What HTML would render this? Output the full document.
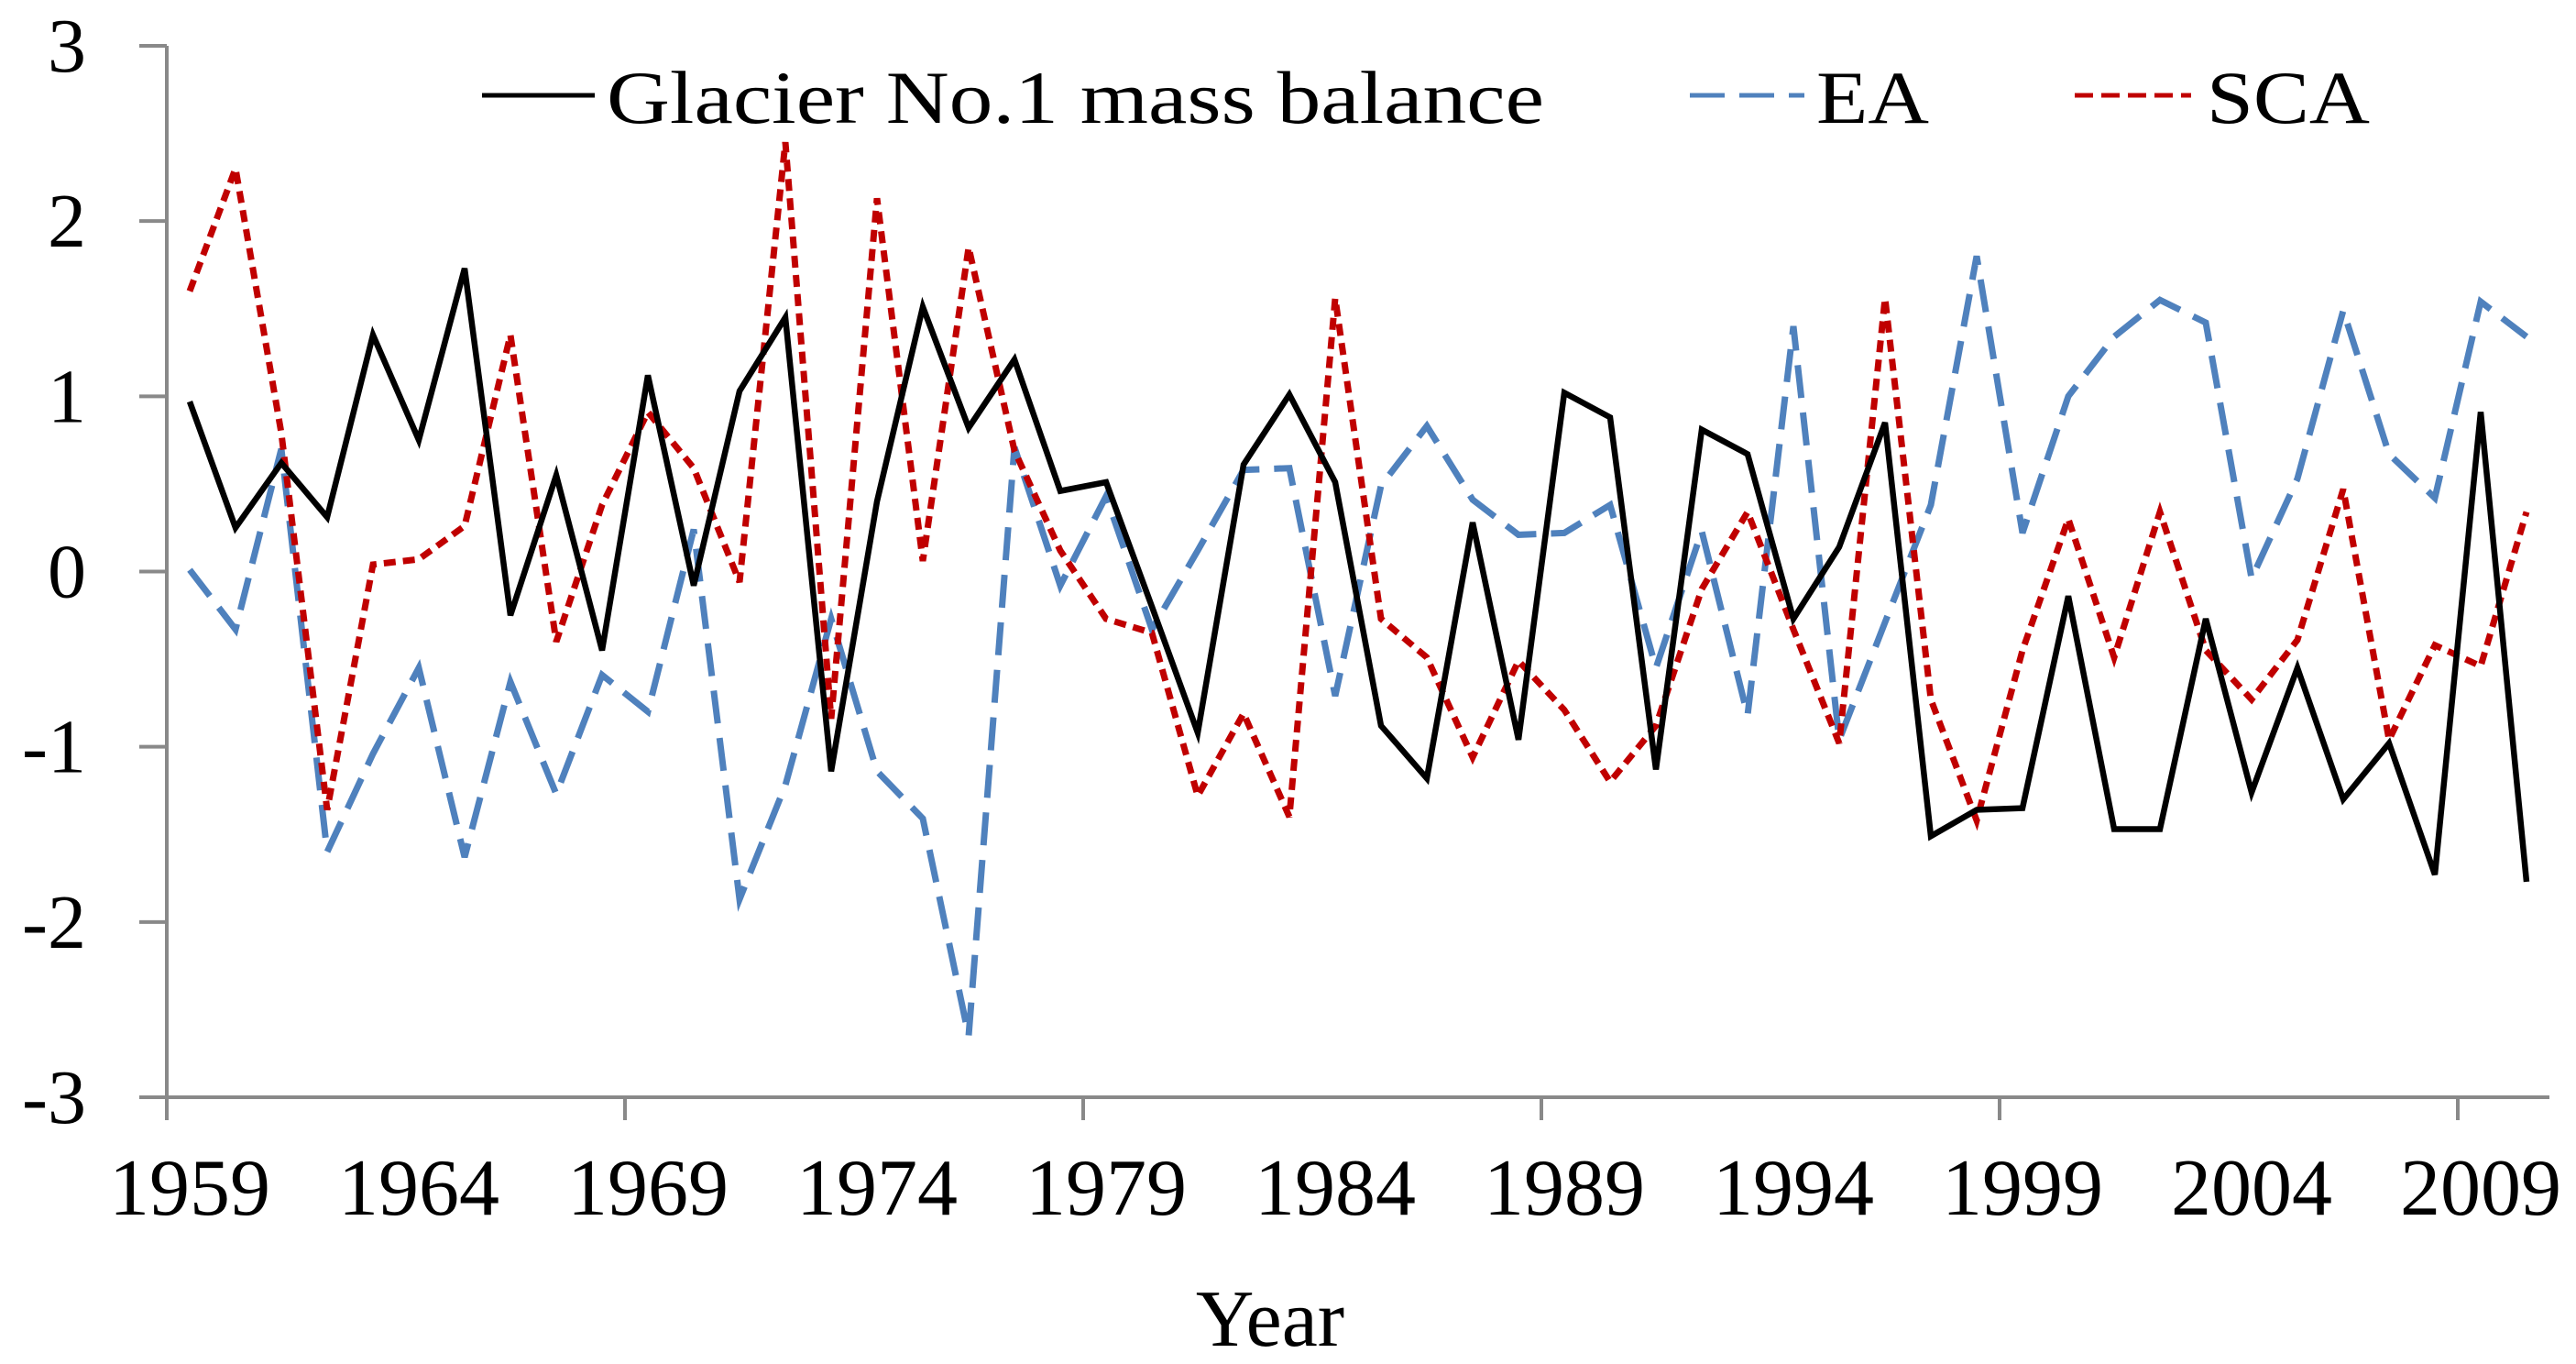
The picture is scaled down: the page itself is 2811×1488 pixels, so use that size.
<!DOCTYPE html>
<html><head><meta charset="utf-8"><style>
html,body{margin:0;padding:0;background:#fff;}
svg{display:block;}
text{font-family:"Liberation Serif",serif;fill:#000;}
</style></head><body>
<svg id="chart" width="2811" height="1488" viewBox="0 0 2811 1488" xmlns="http://www.w3.org/2000/svg">
<g id="grid"></g>
<g id="series"></g>
<g id="axes"></g>
<g id="legend">
  <line x1="526" y1="104" x2="649" y2="104" stroke="#000" stroke-width="5"/>
  <text x="662" y="134" font-size="82" textLength="1023" lengthAdjust="spacingAndGlyphs">Glacier No.1 mass balance</text>
  <line x1="1844" y1="104" x2="1969" y2="104" stroke="#4f81bd" stroke-width="5" stroke-dasharray="38 16"/>
  <text x="1982" y="134" font-size="82" textLength="123" lengthAdjust="spacingAndGlyphs">EA</text>
  <line x1="2264" y1="104" x2="2391" y2="104" stroke="#c00000" stroke-width="5" stroke-dasharray="20 9"/>
  <text x="2408" y="134" font-size="82" textLength="178" lengthAdjust="spacingAndGlyphs">SCA</text>
</g>
<text x="1386" y="1468" font-size="88" text-anchor="middle">Year</text>
</svg>
<script>
const startYear = 1959;
const massBalance = [0.97,0.25,0.62,0.31,1.35,0.75,1.73,-0.25,0.55,-0.45,1.12,-0.08,1.03,1.45,
 -1.14,0.40,1.51,0.82,1.21,0.46,0.51,-0.20,-0.92,0.61,1.01,0.51,-0.88,-1.18,
 0.28,-0.96,1.02,0.88,-1.13,0.81,0.67,-0.27,0.14,0.85,-1.51,-1.36,-1.35,
 -0.14,-1.47,-1.47,-0.27,-1.26,-0.55,-1.30,-0.98,-1.73,0.91,-1.77];
const eaValues = [0.01,-0.33,0.70,-1.60,-1.04,-0.55,-1.63,-0.63,-1.27,-0.59,-0.80,0.24,-1.87,-1.22,
 -0.27,-1.14,-1.41,-2.65,0.71,-0.08,0.43,-0.33,0.12,0.58,0.59,-0.71,0.49,0.83,
 0.41,0.21,0.22,0.38,-0.55,0.23,-0.82,1.40,-0.96,-0.29,0.38,1.80,0.22,
 1.00,1.34,1.55,1.42,-0.04,0.53,1.49,0.67,0.42,1.54,1.34];
const scaValues = [1.60,2.30,0.79,-1.36,0.04,0.07,0.26,1.35,-0.40,0.38,0.91,0.59,-0.06,2.45,
 -0.84,2.13,0.06,1.85,0.69,0.12,-0.27,-0.35,-1.28,-0.81,-1.40,1.56,-0.27,-0.49,
 -1.06,-0.51,-0.79,-1.20,-0.88,-0.10,0.34,-0.33,-0.98,1.56,-0.73,-1.42,-0.45,
 0.30,-0.49,0.34,-0.45,-0.73,-0.39,0.47,-0.96,-0.42,-0.54,0.34];
const yTicks = [3,2,1,0,-1,-2,-3];
const xTickLabels = ["1959","1964","1969","1974","1979","1984","1989","1994","1999","2004","2009"];

const NS = "http://www.w3.org/2000/svg";
const X0 = 182, CW = 50, N = massBalance.length, XEND = X0 + CW * N;
const YTOP = 50, YBOT = 1197, YMAX = 3, YMIN = -3;
function xPos(i){ return X0 + CW * (i + 0.5); }
function yPos(v){ return YTOP + (YMAX - v) / (YMAX - YMIN) * (YBOT - YTOP); }
function mk(tag, attrs, parent){ const e = document.createElementNS(NS, tag); for (const k in attrs) e.setAttribute(k, attrs[k]); parent.appendChild(e); return e; }

const axes = document.getElementById('axes');
const series = document.getElementById('series');

function drawSeries(vals, name, color, width, dash){
  const pts = vals.map((v,i) => xPos(i).toFixed(1) + ',' + yPos(v).toFixed(1)).join(' ');
  const p = mk('polyline', {points: pts, fill: 'none', stroke: color, 'stroke-width': width, 'stroke-linejoin': 'miter'}, series);
  if (dash) p.setAttribute('stroke-dasharray', dash);
  
  
}
drawSeries(eaValues, 'ea-line', '#4f81bd', 7, '36 16');
drawSeries(scaValues, 'sca-line', '#c00000', 7, '13 8');
drawSeries(massBalance, 'mass-balance-line', '#000', 6.5, null);

const yAxis = mk('line', {x1: X0, y1: YTOP, x2: X0, y2: YBOT, stroke: '#898989', 'stroke-width': 4}, axes);


const xAxis = mk('line', {x1: X0 - 30, y1: YBOT, x2: XEND, y2: YBOT, stroke: '#898989', 'stroke-width': 4}, axes);



yTicks.forEach(v => {
  const y = yPos(v);
  const t = mk('line', {x1: X0 - 30, y1: y, x2: X0, y2: y, stroke: '#898989', 'stroke-width': 4}, axes);
  
  
  const l = mk('text', {x: 94, y: y + 28, 'font-size': 84, 'text-anchor': 'end'}, axes);
  l.textContent = String(v);
  
  
});
for (let k = 0; k <= N; k += 10) {
  const x = X0 + CW * k;
  const t = mk('line', {x1: x, y1: YBOT, x2: x, y2: YBOT + 25, stroke: '#898989', 'stroke-width': 4}, axes);
  
  
}
xTickLabels.forEach(lbl => {
  const i = parseInt(lbl, 10) - startYear;
  const l = mk('text', {x: xPos(i), y: 1325, 'font-size': 88, 'text-anchor': 'middle'}, axes);
  l.textContent = lbl;
  
  
});
</script>
</body></html>
